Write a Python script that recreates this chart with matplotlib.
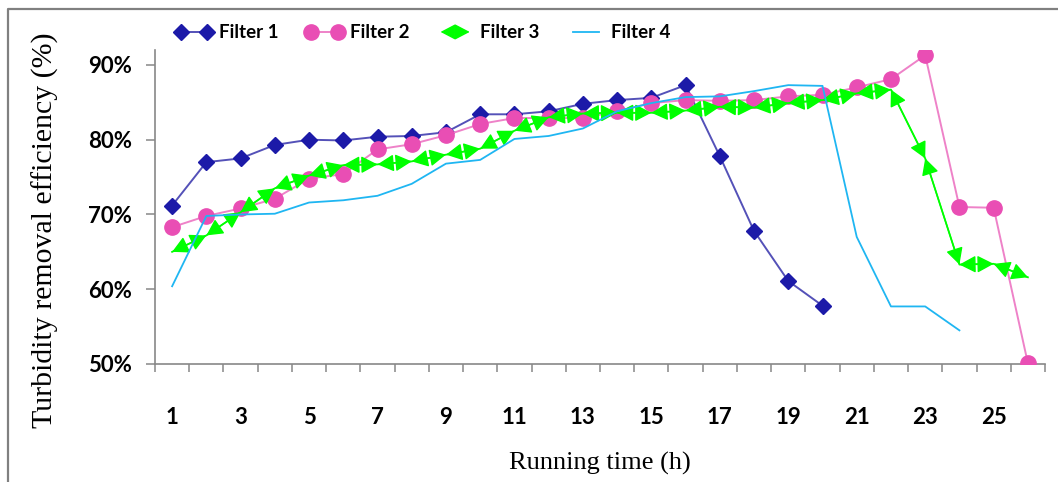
import matplotlib
matplotlib.use("Agg")
import matplotlib.pyplot as plt
from matplotlib.patches import FancyArrowPatch
from matplotlib.legend_handler import HandlerBase
from matplotlib.lines import Line2D

# running time (h), categories 1..26
hours = list(range(1, 27))

# turbidity removal efficiency (%)
filter1 = [71.2, 77.0, 77.5, 79.3, 80.0, 79.9, 80.4, 80.5, 81.0, 83.4,
           83.4, 83.8, 84.8, 85.3, 85.6, 87.3, 77.8, 67.8, 61.1, 57.8]
filter2 = [68.3, 69.8, 70.8, 72.1, 74.8, 75.4, 78.7, 79.4, 80.6, 82.1,
           82.9, 82.9, 82.9, 83.8, 84.9, 85.3, 85.2, 85.3, 85.8, 86.0,
           87.0, 88.1, 91.3, 71.0, 70.9, 50.1]
filter3 = [65.0, 67.2, 70.3, 73.5, 75.2, 76.6, 76.7, 77.1, 78.0, 78.8,
           81.2, 83.0, 83.5, 83.6, 83.6, 83.9, 84.4, 84.3, 84.9, 85.3,
           86.2, 86.7, 77.5, 63.3, 63.4, 61.6]
filter4 = [60.4, 69.8, 70.0, 70.1, 71.6, 71.9, 72.5, 74.1, 76.8, 77.3,
           80.1, 80.5, 81.5, 83.8, 84.9, 85.7, 85.8, 86.5, 87.3, 87.2,
           67.0, 57.7, 57.7, 54.5]

y_ticks = [50, 60, 70, 80, 90]
x_labels = list(range(1, 27, 2))

c1_mark, c1_line = '#1C1AA8', '#5451B8'
c2_mark, c2_line = '#E94EB4', '#EE82C8'
c3 = '#00FF00'
c4 = '#1FB6F2'

# excel style arrow heads on every segment of Filter 3
ARROW = '<|-|>,head_length=0.42,head_width=0.22'

plt.rcParams['font.family'] = ['Lato', 'DejaVu Sans']


class ArrowHandler(HandlerBase):
    """Legend handle drawn as a double headed arrow."""
    def create_artists(self, legend, orig_handle, xdescent, ydescent,
                       width, height, fontsize, trans):
        y = height / 2 - ydescent
        arr = FancyArrowPatch((-xdescent + 3, y), (width - xdescent - 3, y),
                              arrowstyle=ARROW, mutation_scale=22,
                              color=c3, lw=1.0, shrinkA=0, shrinkB=0,
                              transform=trans)
        return [arr]


fig = plt.figure(figsize=(10.58, 4.82), dpi=100)

# outer frame (only top and left edges visible in the crop)
fig.add_artist(Line2D([8 / 1058, 8 / 1058, 1.0], [0.0, 1 - 9 / 482, 1 - 9 / 482],
                      transform=fig.transFigure, color='#808080', lw=1.6))

ax = fig.add_axes([155 / 1058, 1 - 364 / 482, (1045 - 155) / 1058, (364 - 50) / 482])

h1, = ax.plot(hours[:len(filter1)], filter1, color=c1_line, lw=1.4,
              marker='D', ms=8.5, mfc=c1_mark, mec=c1_mark, zorder=3)
h2, = ax.plot(hours[:len(filter2)], filter2, color=c2_line, lw=1.4,
              marker='o', ms=11, mfc=c2_mark, mec=c2_mark, zorder=4)
h3, = ax.plot(hours[:len(filter3)], filter3, color=c3, lw=1.3, zorder=5)
for i in range(len(filter3) - 1):
    ax.annotate('', xy=(hours[i + 1], filter3[i + 1]), xytext=(hours[i], filter3[i]),
                arrowprops=dict(arrowstyle=ARROW, color=c3, lw=1.0,
                                shrinkA=0, shrinkB=0, mutation_scale=24),
                zorder=5)
h4, = ax.plot(hours[:len(filter4)], filter4, color=c4, lw=1.3, zorder=6)

ax.set_xlim(0.5, 26.5)
ax.set_ylim(50, 92)

for s in ['top', 'right']:
    ax.spines[s].set_visible(False)
for s in ['left', 'bottom']:
    ax.spines[s].set_color('#888888')
    ax.spines[s].set_linewidth(1.2)

ax.set_yticks(y_ticks)
ax.set_yticklabels([f'{v}%' for v in y_ticks], fontsize=16, fontweight='bold')
ax.tick_params(axis='y', length=6.5, width=1.1, color='#888888', pad=10)

ax.set_xticks(x_labels)
ax.set_xticklabels([str(v) for v in x_labels], fontsize=16, fontweight='bold')
ax.set_xticks([h - 0.5 for h in hours] + [26.5], minor=True)
ax.tick_params(axis='x', which='major', length=0, pad=31)
ax.tick_params(axis='x', which='minor', length=6, width=1.1, color='#888888')

ax.set_ylabel('Turbidity removal efficiency (%)', family='Liberation Serif',
              fontsize=21.5)
ax.yaxis.set_label_coords(-0.108, 0.427)
ax.set_xlabel('Running time (h)', family='Liberation Serif', fontsize=19, labelpad=17)

fig.legend([h1, h2, h3, h4], ['Filter 1', 'Filter 2', 'Filter 3', 'Filter 4'],
           handler_map={h3: ArrowHandler()}, ncol=4, frameon=False,
           loc='center left', bbox_to_anchor=(158 / 1058, 1 - 33 / 482),
           prop={'weight': 'bold', 'size': 13.5}, numpoints=2,
           handlelength=2.0, handletextpad=0.35, columnspacing=1.45)

fig.savefig('out.png', dpi=100)
